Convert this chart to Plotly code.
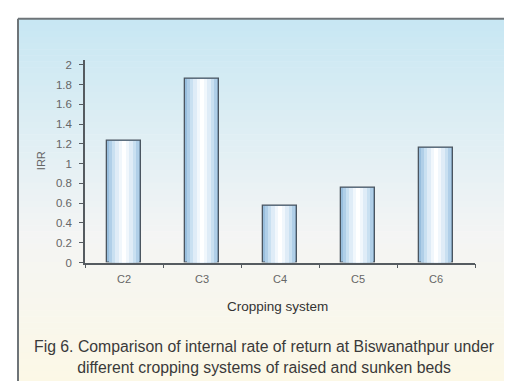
import plotly.graph_objects as go

categories = ["C2", "C3", "C4", "C5", "C6"]
irr_values = [1.23, 1.86, 0.57, 0.76, 1.16]
y_ticks = [0, 0.2, 0.4, 0.6, 0.8, 1, 1.2, 1.4, 1.6, 1.8, 2]
y_tick_labels = ["0", "0.2", "0.4", "0.6", "0.8", "1", "1.2", "1.4", "1.6", "1.8", "2"]

W, H = 512, 381

fig = go.Figure()

# bar gradient via overlaid bars of decreasing width
layers = [
    (0.44, "#98bedd"),
    (0.38, "#b0cfe8"),
    (0.30, "#c9e0f1"),
    (0.22, "#dfecf7"),
    (0.13, "#f1f7fc"),
    (0.06, "#ffffff"),
]
for i, (w, c) in enumerate(layers):
    fig.add_trace(go.Bar(
        x=categories, y=irr_values, width=w,
        marker=dict(color=c,
                    line=dict(color="#4a5560" if i == 0 else c, width=1.3 if i == 0 else 0)),
        hoverinfo="skip", showlegend=False,
    ))

# background gradient bands inside frame
shapes = []
x0p, y0p = 10, 10
top = (200, 231, 243)
mid = (244, 245, 244)
bot = (252, 248, 230)
n = 60
for k in range(n):
    t = k / (n - 1)
    if t < 0.6:
        u = t / 0.6
        c = tuple(int(round(top[j] + (mid[j] - top[j]) * u)) for j in range(3))
    else:
        u = (t - 0.6) / 0.4
        c = tuple(int(round(mid[j] + (bot[j] - mid[j]) * u)) for j in range(3))
    ya = y0p + (H - y0p) * k / n
    yb = y0p + (H - y0p) * (k + 1) / n + 0.5
    shapes.append(dict(type="rect", xref="paper", yref="paper", layer="below",
                       x0=x0p / W, x1=1, y0=1 - yb / H, y1=1 - ya / H,
                       fillcolor="rgb(%d,%d,%d)" % c, line=dict(width=0)))
# frame lines
shapes.append(dict(type="line", xref="paper", yref="paper", x0=x0p / W, x1=1,
                   y0=1 - y0p / H, y1=1 - y0p / H, line=dict(color="#6e7478", width=2)))
shapes.append(dict(type="line", xref="paper", yref="paper", x0=x0p / W, x1=x0p / W,
                   y0=0, y1=1 - y0p / H, line=dict(color="#6e7478", width=2)))

font = "Liberation Sans, Arial, sans-serif"

fig.update_layout(
    width=W, height=H, autosize=False,
    margin=dict(l=0, r=0, t=0, b=0),
    paper_bgcolor="white", plot_bgcolor="rgba(0,0,0,0)",
    barmode="overlay", bargap=0,
    shapes=shapes,
    font=dict(family=font, color="#555555", size=11),
    xaxis=dict(
        domain=[77 / W, 467 / W], showgrid=False, showline=True,
        linecolor="#555b60", linewidth=1.5,
        ticks="outside", tickson="boundaries", ticklen=4, tickcolor="#555b60",
        ticklabelstandoff=5,
        tickfont=dict(size=11, color="#666666"), fixedrange=True,
    ),
    yaxis=dict(
        domain=[1 - 258.3 / H, 1 - 51.7 / H], range=[0, 2.05],
        tickvals=y_ticks, ticktext=y_tick_labels,
        showgrid=False, zeroline=False, showline=True,
        linecolor="#555b60", linewidth=1.5,
        ticks="outside", ticklen=4, tickcolor="#555b60",
        ticklabelstandoff=5,
        tickfont=dict(size=11.5, color="#666666"), fixedrange=True,
    ),
    annotations=[
        dict(text="IRR", xref="paper", yref="paper", x=33 / W, y=1 - 155 / H,
             xanchor="center", yanchor="middle",
             textangle=-90, showarrow=False, font=dict(size=11, color="#666666")),
        dict(text="Cropping system", xref="paper", yref="paper", x=269 / W, y=1 - 303 / H,
             xanchor="center", yanchor="middle",
             showarrow=False, font=dict(size=13.5, color="#333333")),
        dict(text="Fig 6. Comparison of internal rate of return at Biswanathpur under<br>different cropping systems of raised and sunken beds",
             xref="paper", yref="paper", x=256 / W, y=1 - 355 / H, showarrow=False,
             xanchor="center", yanchor="middle",
             align="center", font=dict(size=15.8, color="#3a3a3a")),
    ],
)

fig.write_html("out.html")
